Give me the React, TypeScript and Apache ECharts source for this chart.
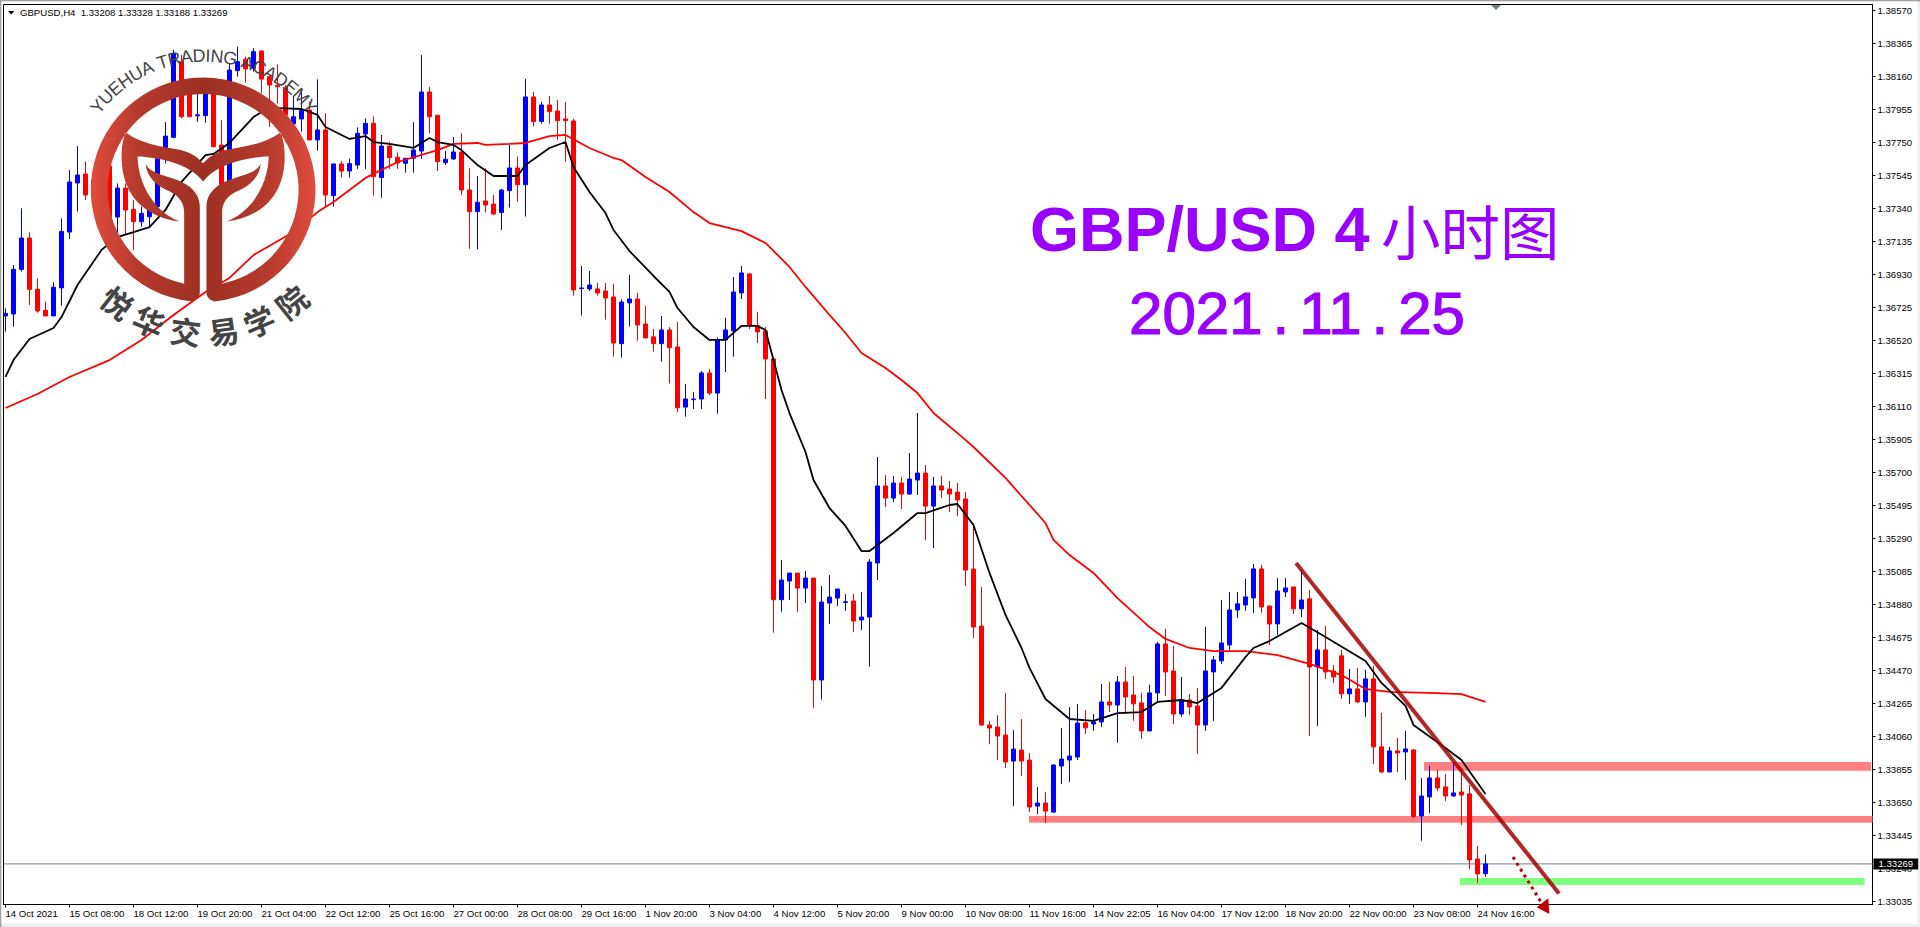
import React, { useEffect, useRef } from "react";
import * as echarts from "echarts";

const opens = [
  1.36672,1.36684,1.36961,1.37156,1.36837,1.36707,1.36672,1.36846,1.37193,1.37498,
  1.37553,1.37423,1.37516,1.37603,1.37286,1.37466,1.37334,1.37257,1.37288,1.37351,
  1.37651,1.37781,1.38251,1.38137,1.37915,1.37916,1.38054,1.37733,1.37506,1.38195,
  1.38266,1.38210,1.38317,1.38158,1.38104,1.38092,1.37864,1.37895,1.37951,1.37765,
  1.37827,1.37419,1.37616,1.37572,1.37609,1.37802,1.37868,1.37531,1.37727,1.37657,
  1.37620,1.37651,1.37696,1.38063,1.37918,1.37624,1.37647,1.37690,1.37454,1.37320,
  1.37386,1.37367,1.37314,1.37450,1.37591,1.37487,1.38032,1.37879,1.37982,1.37945,
  1.37895,1.37883,1.36842,1.36840,1.36840,1.36827,1.36790,1.36500,1.36753,1.36777,
  1.36622,1.36542,1.36500,1.36585,1.36479,1.36106,1.36152,1.36156,1.36318,1.36193,
  1.36523,1.36579,1.36815,1.36933,1.36610,1.36579,1.36405,1.34910,1.35026,1.35075,
  1.34982,1.35044,1.34411,1.34889,1.34920,1.34893,1.34902,1.34784,1.34802,1.35138,
  1.35616,1.35541,1.35634,1.35566,1.35653,1.35696,1.35491,1.35616,1.35597,1.35578,
  1.35535,1.35100,1.34746,1.34131,1.34119,1.34069,1.33908,1.33976,1.33914,1.33628,
  1.33647,1.33591,1.33877,1.33914,1.33933,1.34145,1.34138,1.34151,1.34275,1.34256,
  1.34399,1.34318,1.34269,1.34095,1.34331,1.34635,1.34467,1.34200,1.34287,1.34250,
  1.34132,1.34461,1.34530,1.34629,1.34846,1.34877,1.34921,1.35101,1.34871,1.34759,
  1.34958,1.34989,1.34853,1.34915,1.34492,1.34598,1.34467,1.34561,1.34325,1.34356,
  1.34275,1.34418,1.33996,1.33840,1.33971,1.33964,1.33977,1.33567,1.33685,1.33803,
  1.33747,1.33691,1.33716,1.33704,1.33300,1.33208,
];
const closes = [
  1.36688,1.36961,1.37156,1.36837,1.36703,1.36672,1.36850,1.37197,1.37504,1.37547,
  1.37423,1.37516,1.37603,1.37288,1.37466,1.37330,1.37257,1.37309,1.37346,1.37651,
  1.37789,1.38303,1.37909,1.37909,1.37921,1.38054,1.37723,1.37489,1.38199,1.38251,
  1.38206,1.38313,1.38143,1.38106,1.38096,1.37920,1.37909,1.37947,1.37765,1.37827,
  1.37423,1.37616,1.37572,1.37618,1.37806,1.37868,1.37537,1.37727,1.37655,1.37622,
  1.37651,1.37702,1.38063,1.37909,1.37630,1.37645,1.37690,1.37454,1.37320,1.37378,
  1.37361,1.37305,1.37454,1.37591,1.37487,1.38032,1.37879,1.37982,1.37941,1.37885,
  1.37885,1.36833,1.36846,1.36864,1.36815,1.36784,1.36504,1.36759,1.36777,1.36616,
  1.36535,1.36500,1.36585,1.36475,1.36102,1.36156,1.36156,1.36318,1.36193,1.36523,
  1.36585,1.36821,1.36939,1.36610,1.36573,1.36405,1.34910,1.35032,1.35075,1.34982,
  1.35044,1.34411,1.34895,1.34926,1.34976,1.34897,1.34777,1.34802,1.35144,1.35616,
  1.35541,1.35634,1.35566,1.35659,1.35696,1.35491,1.35616,1.35591,1.35566,1.35529,
  1.35094,1.34740,1.34132,1.34113,1.34063,1.33902,1.33982,1.33908,1.33622,1.33647,
  1.33597,1.33883,1.33920,1.33939,1.34144,1.34114,1.34151,1.34275,1.34256,1.34399,
  1.34306,1.34263,1.34095,1.34331,1.34635,1.34461,1.34200,1.34287,1.34244,1.34132,
  1.34467,1.34536,1.34641,1.34846,1.34884,1.34927,1.35101,1.34865,1.34759,1.34964,
  1.34983,1.34853,1.34908,1.34492,1.34598,1.34461,1.34430,1.34325,1.34356,1.34275,
  1.34418,1.33996,1.33840,1.33971,1.33958,1.33983,1.33563,1.33691,1.33803,1.33741,
  1.33691,1.33710,1.33697,1.33294,1.33207,1.33269,
];
const lows = [
  1.36574,1.36605,1.36947,1.36740,1.36692,1.36672,1.36672,1.36736,1.37150,1.37320,
  1.37392,1.37392,1.37475,1.37268,1.37185,1.37175,1.37081,1.37226,1.37226,1.37330,
  1.37620,1.37775,1.37899,1.37909,1.37878,1.37872,1.37719,1.37464,1.37475,1.38158,
  1.38121,1.38189,1.38054,1.37847,1.37992,1.37754,1.37816,1.37816,1.37765,1.37698,
  1.37351,1.37351,1.37531,1.37531,1.37585,1.37585,1.37419,1.37406,1.37585,1.37585,
  1.37562,1.37562,1.37647,1.37806,1.37572,1.37609,1.37640,1.37423,1.37088,1.37086,
  1.37314,1.37299,1.37206,1.37345,1.37382,1.37289,1.37848,1.37866,1.37866,1.37765,
  1.37630,1.36798,1.36674,1.36827,1.36798,1.36649,1.36419,1.36413,1.36606,1.36519,
  1.36535,1.36450,1.36388,1.36252,1.36075,1.36046,1.36094,1.36094,1.36181,1.36065,
  1.36324,1.36419,1.36777,1.36591,1.36504,1.36156,1.34705,1.34835,1.34908,1.34835,
  1.34889,1.34239,1.34289,1.34759,1.34870,1.34840,1.34709,1.34721,1.34494,1.35032,
  1.35485,1.35516,1.35473,1.35560,1.35560,1.35280,1.35231,1.35541,1.35454,1.35429,
  1.34995,1.34672,1.34125,1.34013,1.33914,1.33864,1.33628,1.33815,1.33591,1.33579,
  1.33523,1.33585,1.33765,1.33777,1.33914,1.34076,1.34095,1.34120,1.34213,1.34022,
  1.34200,1.34157,1.34045,1.34095,1.34275,1.34312,1.34138,1.34182,1.34194,1.33952,
  1.34095,1.34157,1.34511,1.34598,1.34797,1.34842,1.34828,1.34828,1.34629,1.34691,
  1.34927,1.34821,1.34801,1.34064,1.34126,1.34418,1.34393,1.34294,1.34263,1.34269,
  1.34182,1.33890,1.33834,1.33840,1.33840,1.33791,1.33555,1.33412,1.33586,1.33722,
  1.33660,1.33685,1.33511,1.33238,1.33151,1.33188,
];
const highs = [
  1.36719,1.36988,1.37340,1.37191,1.36905,1.36761,1.36881,1.37278,1.37578,1.37727,
  1.37632,1.37537,1.37640,1.37620,1.37495,1.37495,1.37392,1.37351,1.37371,1.37723,
  1.37876,1.38323,1.38292,1.38147,1.38054,1.38075,1.38075,1.37889,1.38241,1.38344,
  1.38282,1.38334,1.38323,1.38168,1.38234,1.38106,1.38034,1.38085,1.38003,1.38141,
  1.37930,1.37616,1.37634,1.37649,1.37843,1.37899,1.37912,1.37796,1.37754,1.37686,
  1.37651,1.37876,1.38292,1.38094,1.37918,1.37696,1.37783,1.37806,1.37589,1.37541,
  1.37589,1.37423,1.37461,1.37734,1.37661,1.38144,1.38063,1.38001,1.38038,1.38013,
  1.38001,1.37895,1.36982,1.36951,1.36877,1.36877,1.36871,1.36775,1.36927,1.36815,
  1.36734,1.36591,1.36672,1.36602,1.36635,1.36250,1.36199,1.36330,1.36343,1.36539,
  1.36660,1.36914,1.36982,1.36939,1.36697,1.36604,1.36405,1.35156,1.35075,1.35075,
  1.35088,1.35044,1.34995,1.35063,1.34976,1.34945,1.34945,1.34957,1.35162,1.35796,
  1.35684,1.35678,1.35672,1.35821,1.36069,1.35746,1.35672,1.35678,1.35647,1.35634,
  1.35578,1.35384,1.34988,1.34156,1.34193,1.34330,1.34100,1.34169,1.33957,1.33746,
  1.33715,1.33889,1.34113,1.34243,1.34262,1.34225,1.34200,1.34387,1.34399,1.34436,
  1.34492,1.34436,1.34331,1.34381,1.34648,1.34728,1.34623,1.34430,1.34325,1.34362,
  1.34741,1.34561,1.34908,1.34958,1.34958,1.35039,1.35132,1.35126,1.34871,1.35045,
  1.35045,1.34989,1.35095,1.34971,1.34722,1.34747,1.34505,1.34598,1.34480,1.34486,
  1.34474,1.34499,1.34207,1.33996,1.34051,1.34095,1.33983,1.33803,1.33878,1.33853,
  1.33828,1.33902,1.33853,1.33760,1.33381,1.33328,
];

const blackMA = [
  [0,1.36293],[1,1.36398],[3,1.36529],[6,1.36597],[7,1.36665],[9,1.36864],[12,1.37082],[14,1.37162],[18,1.37224],[20,1.37330],
  [22,1.37504],[25,1.37671],[26,1.37678],[28,1.37746],[31,1.37907],[32,1.37938],[34,1.37963],[37,1.37957],[39,1.37920],[40,1.37845],
  [43,1.37771],[45,1.37789],[46,1.37752],[48,1.37740],[51,1.37715],[53,1.37777],[54,1.37752],[56,1.37734],[57,1.37702],[59,1.37609],
  [61,1.37541],[64,1.37541],[65,1.37609],[68,1.37715],[70,1.37752],[71,1.37597],[73,1.37442],[75,1.37311],[76,1.37206],[78,1.37075],
  [81,1.36920],[83,1.36821],[84,1.36721],[86,1.36603],[88,1.36523],[90,1.36523],[92,1.36610],[94,1.36610],[95,1.36585],[96,1.36398],
  [97,1.36212],[98,1.36069],[100,1.35827],[101,1.35653],[103,1.35479],[105,1.35368],[107,1.35212],[108,1.35212],[111,1.35324],[114,1.35448],
  [115,1.35448],[118,1.35498],[119,1.35504],[121,1.35374],[123,1.35076],[125,1.34815],[127,1.34610],[128,1.34486],[130,1.34293],[133,1.34169],
  [136,1.34157],[139,1.34206],[142,1.34212],[144,1.34275],[147,1.34287],[149,1.34268],[152,1.34362],[155,1.34554],[156,1.34610],[158,1.34653],
  [162,1.34765],[165,1.34678],[170,1.34529],[172,1.34393],[175,1.34250],[176,1.34132],[180,1.33989],[182,1.33914],[185,1.33703],
];
const redMA = [
  [0,1.36100],[4,1.36187],[8,1.36293],[13,1.36398],[17,1.36523],[21,1.36678],[25,1.36821],[28,1.36908],[31,1.37050],[36,1.37193],
  [39,1.37317],[41,1.37380],[45,1.37529],[49,1.37628],[54,1.37702],[56,1.37740],[59,1.37746],[60,1.37734],[63,1.37740],[65,1.37746],
  [68,1.37789],[70,1.37796],[73,1.37715],[76,1.37653],[77,1.37640],[80,1.37535],[83,1.37442],[86,1.37317],[88,1.37249],[92,1.37199],
  [95,1.37125],[98,1.36976],[100,1.36852],[103,1.36678],[105,1.36566],[107,1.36442],[110,1.36349],[112,1.36274],[114,1.36193],[116,1.36069],
  [120,1.35902],[121,1.35858],[125,1.35666],[130,1.35386],[131,1.35281],[133,1.35187],[136,1.35076],[139,1.34920],[143,1.34740],[145,1.34666],
  [148,1.34610],[151,1.34591],[155,1.34591],[159,1.34566],[163,1.34511],[167,1.34442],[170,1.34355],[173,1.34337],[179,1.34330],[182,1.34324],
  [185,1.34275],
];

const priceTicks = [
  1.3857,1.38365,1.3816,1.37955,1.3775,1.37545,1.3734,1.37135,1.3693,1.36725,1.3652,1.36315,1.3611,1.35905,
  1.357,1.35495,1.3529,1.35085,1.3488,1.34675,1.3447,1.34265,1.3406,1.33855,1.3365,1.33445,1.3324,1.33035,
];
const timeLabels = [
  "14 Oct 2021","15 Oct 08:00","18 Oct 12:00","19 Oct 20:00","21 Oct 04:00","22 Oct 12:00","25 Oct 16:00","27 Oct 00:00",
  "28 Oct 08:00","29 Oct 16:00","1 Nov 20:00","3 Nov 04:00","4 Nov 12:00","5 Nov 20:00","9 Nov 00:00","10 Nov 08:00",
  "11 Nov 16:00","14 Nov 22:05","16 Nov 04:00","17 Nov 12:00","18 Nov 20:00","22 Nov 00:00","23 Nov 08:00","24 Nov 16:00",
];
const timeTickIdx = timeLabels.map((_, i) => i * 8);
const bidPrice = 1.33269;
const X_MIN = -0.25;
const X_MAX = 233.375;

const resistanceUpper = { fromBar: 177.31, toBar: 233.2, top: 1.33902, bottom: 1.33848 };
const resistanceLower = { fromBar: 127.94, toBar: 233.375, top: 1.33567, bottom: 1.33525 };
const supportZone = { fromBar: 181.81, toBar: 232.4, top: 1.33181, bottom: 1.33138 };

const UI_FONT = '"Liberation Sans", Arial, sans-serif';
const UI_SIZE = 9.6;
const PURPLE = "#9900FF";

const logoPath =
  "M610 233 A337 337 0 0 0 573 905 C585 906 600 895 600 878 L600 620 C600 580 570 555 530 540 C490 525 450 520 437 492 C440 530 470 560 510 575 C540 590 553 610 553 640 L553 852 A288 288 0 0 1 610 282 " +
  "A288 288 0 0 1 667 852 L667 640 C667 610 680 590 710 575 C750 560 780 530 783 492 C770 520 730 525 690 540 C650 555 620 580 620 620 L620 878 C620 895 635 906 647 905 A337 337 0 0 0 610 233 Z " +
  "M378 398 C420 430 480 440 540 450 C575 458 595 475 610 490 C625 475 645 458 680 450 C740 440 800 430 842 398 C850 415 855 440 855 470 C855 600 770 655 680 665 C750 640 805 560 807 470 C780 470 740 477 710 485 C660 500 630 520 610 545 C590 520 560 500 510 485 C480 477 440 470 413 470 C415 560 470 640 540 665 C450 655 365 600 365 470 C365 440 370 415 378 398 Z";

echarts.graphic.registerShape("yuehuaLogo", echarts.graphic.extendPath(logoPath, {}) as any);

const arcChars = "YUEHUA TRADING ACADEMY".split("");
const arcWidths = [.667,.722,.667,.722,.722,.667,.278,.611,.722,.667,.722,.278,.722,.778,.278,.667,.722,.667,.722,.667,.833,.667];
const bottomChars = ["悦","华","交","易","学","院"];
const bottomAngles = [38, 23, 7.5, -8, -23, -38.5];

function logoGraphics(): any[] {
  const cx = 204, cy = 191.7;
  const out: any[] = [{
    type: "yuehuaLogo", x: 0, y: 0, scaleX: 1 / 3, scaleY: 1 / 3, z: 90, silent: true,
    style: {
      fill: new echarts.graphic.LinearGradient(0, 0, 1, 0, [
        { offset: 0, color: "#DF4C3D" }, { offset: 0.22, color: "#B43A2C" }, { offset: 0.5, color: "#9E3022" },
        { offset: 0.78, color: "#B43A2C" }, { offset: 1, color: "#DF4C3D" },
      ]),
    },
  }];
  const size = 18, r = 136;
  const total = arcWidths.reduce((a, b) => a + b, 0) * size;
  let run = -total / 2;
  arcChars.forEach((ch, i) => {
    const w = arcWidths[i] * size;
    const a = (run + w / 2) / r;
    run += w;
    if (ch === " ") return;
    out.push({
      type: "text", x: cx + r * Math.sin(a), y: cy - r * Math.cos(a), rotation: -a, z: 91, silent: true,
      style: { text: ch, fontSize: size, fontFamily: UI_FONT, fill: "#444", align: "center", verticalAlign: "middle" },
    });
  });
  bottomChars.forEach((ch, i) => {
    const d = (bottomAngles[i] * Math.PI) / 180;
    out.push({
      type: "text", x: cx - 140 * Math.sin(d), y: cy + 140 * Math.cos(d), rotation: -d, z: 91, silent: true,
      style: { text: ch, fontSize: 31, fontWeight: "bold", fontFamily: '"Noto Sans CJK SC"', fill: "#444", align: "center", verticalAlign: "middle" },
    });
  });
  return out;
}

export default function App() {
  const ref = useRef<HTMLDivElement>(null);
  useEffect(() => {
    const chart = echarts.init(ref.current!, undefined, { renderer: "svg" });
    const candles = opens.map((o, i) => [i, o, closes[i], lows[i], highs[i]]);
    const zone = (z: any, color: string) => [
      { xAxis: z.fromBar, yAxis: z.top, itemStyle: { color, opacity: 1 } },
      { xAxis: z.toBar, yAxis: z.bottom },
    ];
    chart.setOption({
      animation: false,
      backgroundColor: "#F0F0F0",
      grid: { left: 3.5, top: 4.5, width: 1869, height: 900, show: true, backgroundColor: "#fff", borderColor: "#000", borderWidth: 1, containLabel: false },
      xAxis: {
        type: "value", min: X_MIN, max: X_MAX, splitLine: { show: false },
        axisLine: { show: true, onZero: false, lineStyle: { color: "#000" } },
        axisTick: { show: true, length: 3, customValues: timeTickIdx, lineStyle: { color: "#000" } },
        axisLabel: {
          show: true, customValues: timeTickIdx, align: "left", margin: 4, fontSize: UI_SIZE, fontFamily: UI_FONT, color: "#000",
          hideOverlap: false,
          formatter: (v: number) => timeLabels[Math.round(v / 8)] ?? "",
        },
      },
      yAxis: {
        type: "value", position: "right", min: 1.33017, max: 1.38606, scale: true, splitLine: { show: false },
        axisLine: { show: true, onZero: false, lineStyle: { color: "#000" } },
        axisTick: { show: true, length: 3, customValues: priceTicks, lineStyle: { color: "#000" } },
        axisLabel: {
          show: true, customValues: priceTicks, margin: 5, fontSize: UI_SIZE, fontFamily: UI_FONT, color: "#000",
          formatter: (v: number) => v.toFixed(5),
        },
      },
      series: [
        {
          type: "line", name: "Bid", data: [[X_MIN, bidPrice], [X_MAX, bidPrice]], showSymbol: false, clip: false, z: 1,
          lineStyle: { color: "#708090", width: 1 },
          endLabel: {
            show: true, distance: 1, formatter: () => bidPrice.toFixed(5), color: "#fff", backgroundColor: "#000",
            fontSize: UI_SIZE, fontFamily: UI_FONT, padding: [1, 5, 0, 5], lineHeight: 10,
          },
        },
        {
          type: "candlestick", name: "GBPUSD", data: candles, encode: { x: 0, y: [1, 2, 3, 4] }, barWidth: 4, clip: true,
          itemStyle: { color: "#0000FF", color0: "#FF0000", borderColor: "#0000FF", borderColor0: "#FF0000", borderWidth: 1 },
          markArea: {
            silent: true,
            data: [zone(resistanceUpper, "#FF8080"), zone(resistanceLower, "#FF8080"), zone(supportZone, "#80FF80")],
          },
        },
        { type: "line", name: "MA fast", data: blackMA, showSymbol: false, smooth: false, lineStyle: { color: "#000", width: 1.8 }, z: 4 },
        { type: "line", name: "MA slow", data: redMA, showSymbol: false, smooth: false, lineStyle: { color: "#FF0000", width: 1.8 }, z: 3 },
      ],
      graphic: [
        { type: "rect", z: -1, shape: { x: 0, y: 0, width: 1920, height: 1.5 }, style: { fill: "#A0A0A0" }, silent: true },
        { type: "rect", z: -1, shape: { x: 0, y: 0, width: 1.5, height: 927 }, style: { fill: "#A0A0A0" }, silent: true },
        { type: "rect", z: -1, shape: { x: 1.5, y: 1.5, width: 1916, height: 922 }, style: { fill: "#fff" }, silent: true },
        { type: "polygon", z: 50, shape: { points: [[8, 11], [14.5, 11], [11.2, 14.5]] }, style: { fill: "#000" }, silent: true },
        { type: "polygon", z: 50, shape: { points: [[1491, 5], [1501, 5], [1496, 10]] }, style: { fill: "#708090" }, silent: true },
        { type: "text", z: 50, x: 20, y: 12.5, silent: true, style: { text: "GBPUSD,H4  1.33208 1.33328 1.33188 1.33269", fontSize: UI_SIZE, fontFamily: UI_FONT, fill: "#000", verticalAlign: "middle" } },
        ...logoGraphics(),
        { type: "line", z: 80, silent: true, shape: { x1: 1296, y1: 563, x2: 1559, y2: 893.5 }, style: { stroke: "rgba(165,0,0,0.85)", lineWidth: 4 } },
        { type: "line", z: 80, silent: true, shape: { x1: 1513, y1: 857, x2: 1541, y2: 902 }, style: { stroke: "#C00000", lineWidth: 3, lineDash: [3, 4] } },
        { type: "polygon", z: 80, silent: true, shape: { points: [[1548.3, 898.3], [1536.7, 907.3], [1549.3, 914]] }, style: { fill: "#C00000" } },
        { type: "text", z: 60, x: 1030, y: 229, silent: true, style: { text: "GBP/USD 4", fontSize: 63, fontWeight: "bold", fontFamily: UI_FONT, fill: PURPLE, verticalAlign: "middle" } },
        { type: "text", z: 60, x: 1381, y: 229, silent: true, style: { text: "小时图", fontSize: 59.5, fontFamily: '"Noto Sans CJK SC"', fill: PURPLE, verticalAlign: "middle" } },
        { type: "text", z: 60, x: 1297, y: 313, silent: true, style: { text: "2021\u2006.\u200611\u2006.\u200625", fontSize: 60, fontFamily: UI_FONT, fill: PURPLE, stroke: PURPLE, lineWidth: 1.2, align: "center", verticalAlign: "middle" } },
      ],
    });
    return () => chart.dispose();
  }, []);
  return <div ref={ref} style={{ position: "fixed", left: 0, top: 0, width: 1920, height: 927 }} />;
}
